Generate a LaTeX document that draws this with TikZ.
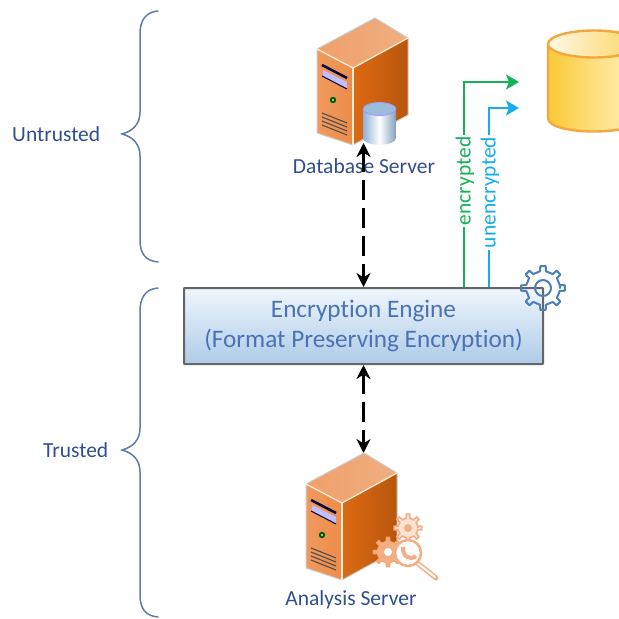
\documentclass[tikz,border=0pt]{standalone}
\usepackage{fontspec}
\setmainfont{Carlito}[Ligatures=NoCommon]
\usetikzlibrary{arrows.meta}
\definecolor{labelblue}{HTML}{2F4F8F}
\definecolor{enginetext}{HTML}{4A72B4}
\definecolor{bracecol}{HTML}{5F7BA8}
\definecolor{gearblue}{HTML}{4A80B8}
\definecolor{greenline}{HTML}{14B35A}
\definecolor{blueline}{HTML}{14AEEF}
\definecolor{softorange}{HTML}{F2AE85}
\definecolor{towertopa}{HTML}{EFAE80}
\definecolor{towertopb}{HTML}{F0A06A}
\definecolor{towerlefta}{HTML}{F09A5E}
\definecolor{towerleftb}{HTML}{EE8C48}
\definecolor{towerrighta}{HTML}{DB6A14}
\definecolor{towerrightb}{HTML}{B9560C}
\definecolor{cyledge}{HTML}{F4A63F}
\definecolor{cylgold}{HTML}{FBC935}
\definecolor{cylmid}{HTML}{FDDF7E}
\definecolor{cylpale}{HTML}{FFF0BE}
\definecolor{cyltopa}{HTML}{FFF8E6}
\definecolor{cyltopb}{HTML}{FBD560}
\definecolor{boxtop}{HTML}{EFF6FC}
\definecolor{boxbot}{HTML}{AECBE8}
\definecolor{dbdark}{HTML}{8FB0D4}
\definecolor{dbtop}{HTML}{9DBBDB}
\tikzset{
  lab/.style={text=labelblue,font=\fontsize{21.5}{24}\selectfont,inner sep=0pt},
  enginelab/.style={text=enginetext,font=\fontsize{25.2}{30}\selectfont,align=center,inner sep=0pt},
  bracestyle/.style={draw=bracecol,line width=1.5pt,line cap=round},
  dasharrow/.style={draw=black,line width=2.2pt,dash pattern=on 20pt off 8pt,{Stealth[length=14pt,width=14pt]}-{Stealth[length=14pt,width=14pt]}},
  greenarrow/.style={draw=greenline,line width=2.8pt,-{Stealth[length=13pt,width=15pt,inset=3pt]}},
  bluearrow/.style={draw=blueline,line width=2.8pt,-{Stealth[length=13pt,width=15pt,inset=3pt]}},
  sidelabel/.style={rotate=90,fill=white,inner sep=2pt,font=\fontsize{21.5}{24}\selectfont},
}
\newcommand{\servertower}{%
  \shade[left color=towertopb,right color=towertopa] (375,18) -- (408,38) -- (353,68) -- (317,49) -- cycle;
  \shade[left color=towerlefta,right color=towerleftb] (317,49) -- (353,68) -- (353,145) -- (317,133) -- cycle;
  \shade[left color=towerrighta,right color=towerrightb] (353,68) -- (408,38) -- (408,115) -- (353,145) -- cycle;
  \draw[black!20,line width=1pt,line join=round] (317,49) -- (375,18) -- (408,38) -- (408,115) -- (353,145) -- (317,133) -- cycle;
  \draw[white!85!orange,line width=1.3pt,line join=round] (317,49) -- (353,68) -- (408,38);
  \draw[white!85!orange,line width=1.3pt] (353,68) -- (353,145);
  \draw[black!75!blue,line width=2.5pt] (322,65) -- (347,78);
  \fill[white!75!blue] (323,70) -- (347,82) -- (347,88) -- (323,76) -- cycle;
  \draw[black!70!blue,line width=1pt] (322,76) -- (347,89);
  \fill[black!65!green] (333,100) circle (3.2pt);
  \fill[white!70!green] (333,100) circle (1.2pt);
  \foreach \d in {0,4,8,12}{\draw[black!70,line width=1.1pt] (322,113+\d) -- (347,123+\d);}
}
\newcommand{\gearloop}[2]{%
  (0:#1) \foreach \a in {0,45,...,315}{
    -- (\a-10:#1) -- (\a-7:#2) -- (\a+7:#2) -- (\a+10:#1) -- (\a+35:#1)
  } -- cycle}
\begin{document}
\begin{tikzpicture}[x=1pt,y=-1pt]
\useasboundingbox (0,0) rectangle (619,619);
\begin{scope}
\clip (0,0) rectangle (619,619);

% braces
\draw[bracestyle] (158,11) .. controls (146,12) and (140,20) .. (140,34) -- (140,112) .. controls (140,124) and (133,131) .. (122,134) .. controls (133,137) and (140,144) .. (140,156) -- (140,240) .. controls (140,254) and (146,261) .. (158,262);
\draw[bracestyle] (158,288) .. controls (146,289) and (140,297) .. (140,311) -- (140,428) .. controls (140,440) and (133,447) .. (122,450) .. controls (133,453) and (140,460) .. (140,472) -- (140,595) .. controls (140,609) and (146,616) .. (158,617);
\node[lab,anchor=west] (untrusted) at (12,134) {Untrusted};
\node[lab,anchor=west] (trusted) at (43,450) {Trusted};

% database server icon
\servertower
\shade[left color=dbdark,right color=dbdark!90!black,middle color=white] (363,109) -- (396,109) -- (396,138) .. controls (396,147) and (363,147) .. (363,138) -- cycle;
\fill[dbtop] (379.5,109) ellipse (16.5 and 6.5);
\draw[white!60!blue,line width=.8pt] (379.5,109) ellipse (16.5 and 6.5);
\coordinate (dbtip) at (363.5,143);
\node[lab] (dblabel) at (364,166) {Database Server};

% storage cylinder
\shade[left color=cylgold,right color=cylpale,middle color=cylmid] (548,44) -- (640,44) -- (640,118) .. controls (640,136) and (548,136) .. (548,118) -- cycle;
\shade[left color=cyltopa,right color=cyltopb] (594,44) ellipse (46 and 13.5);
\draw[cyledge,line width=2.4pt] (594,44) ellipse (46 and 13.5);
\draw[cyledge,line width=2.4pt] (548,44) -- (548,118) .. controls (548,136) and (640,136) .. (640,118) -- (640,44);

% engine
\node[draw=black!60,line width=2pt,rounded corners=.5pt,top color=boxtop,bottom color=boxbot,minimum width=359pt,minimum height=76pt,inner sep=0pt] (engine) at (363.5,326) {};
\node[enginelab] (enginetext) at (363.5,326) {Encryption Engine\\(Format Preserving Encryption)};

% gear on the engine
\draw[gearblue,line width=2pt,line join=round,shift={(543,288)}] \gearloop{17}{22};
\draw[gearblue,line width=2pt] (543,288) circle (8pt);

% connectors
\coordinate (greenend) at (519,82);
\coordinate (blueend) at (519,108);
\coordinate (greenstart) at (464,287);
\coordinate (bluestart) at (489,287);
\coordinate (greenbend) at (464,82);
\coordinate (bluebend) at (489,108);
\draw[greenarrow] (greenstart) -- (greenbend) -- (greenend);
\draw[bluearrow] (bluestart) -- (bluebend) -- (blueend);
\node[sidelabel,text=greenline] (enc) at (465,181) {encrypted};
\node[sidelabel,text=blueline] (unenc) at (490,192.5) {unencrypted};
\draw[dasharrow] (dbtip) -- (engine.north);

% analysis server
\coordinate (antip) at (363.5,453);
\draw[dasharrow] (engine.south) -- (antip);
\begin{scope}[shift={(-11,435)}]
\servertower
\end{scope}
\fill[softorange,draw=softorange!70!orange,line width=.8pt,shift={(388,552)}] \gearloop{11}{15};
\fill[white] (388,552) circle (4pt);
\draw[softorange,line width=1.6pt,fill=softorange!35!white,shift={(408,528)}] \gearloop{10}{14};
\fill[softorange] (408,528) circle (4pt);
\draw[softorange,line width=5pt,line cap=round] (416,562) -- (436,578);
\draw[white,line width=2pt,line cap=round] (417,563) -- (435,577);
\fill[white,draw=softorange,line width=2.5pt] (408,553) circle (13pt);
\draw[softorange,line width=4pt] (403,547) .. controls (402,556) and (410,561) .. (416,556);
\node[lab] (anlabel) at (351,600) {Analysis Server};
\end{scope}
\end{tikzpicture}
\end{document}
